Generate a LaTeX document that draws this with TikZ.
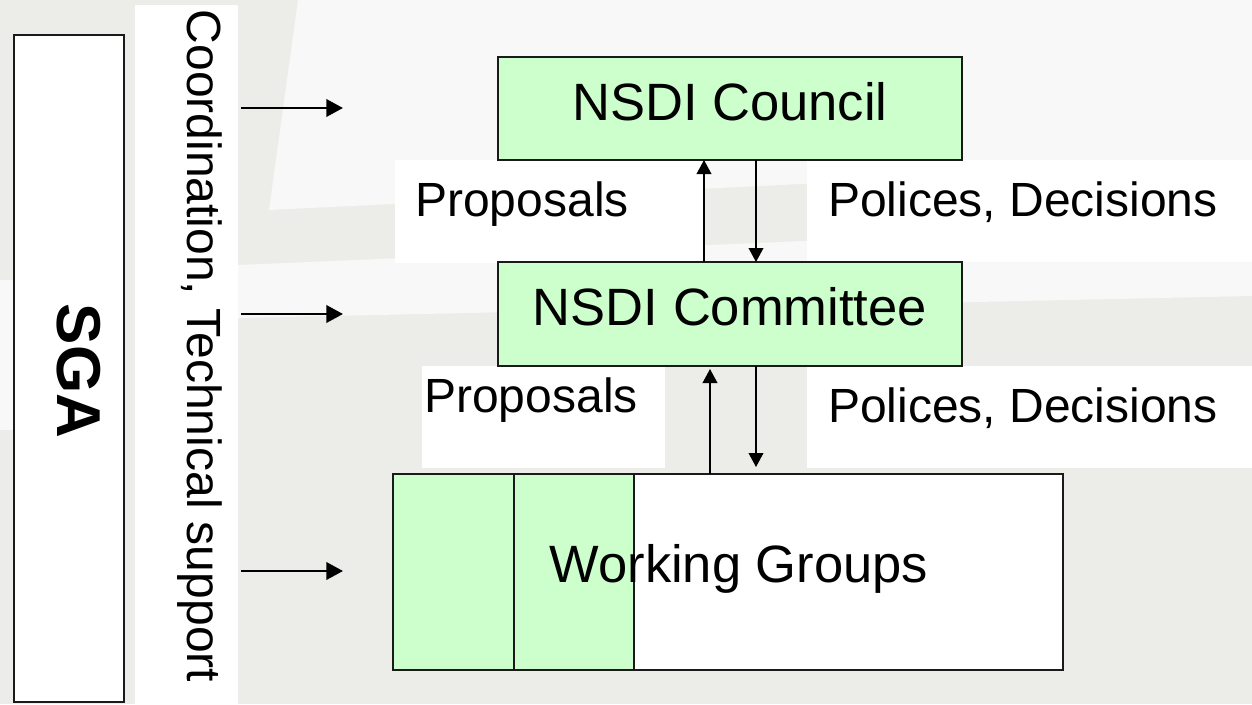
\documentclass[tikz,border=0pt]{standalone}
\usepackage{fontspec}
\setmainfont{Liberation Sans}
\usetikzlibrary{arrows.meta,calc}
\definecolor{bggray}{HTML}{ECECE8}
\definecolor{bglight}{HTML}{F8F8F8}
\definecolor{boxgreen}{HTML}{CCFFCC}
\definecolor{edge}{HTML}{1A1A1A}
\tikzset{
  stagebox/.style={draw=edge, line width=1.1pt, fill=boxgreen, inner sep=0pt, outer sep=0pt, rectangle},
  whitebox/.style={draw=edge, line width=1.1pt, fill=white, inner sep=0pt, outer sep=0pt, rectangle},
  titletext/.style={font=\fontsize{39.4}{44}\selectfont, inner sep=0pt, anchor=base},
  labeltext/.style={font=\fontsize{36}{40}\selectfont, inner sep=0pt, anchor=base west},
  sidearrow/.style={line width=2pt, -{Triangle[length=12.5pt,width=13pt]}},
  flowarrow/.style={line width=1.2pt, -{Triangle[length=10.5pt,width=11pt]}},
}
\begin{document}
\begin{tikzpicture}[x=0.75pt,y=-0.75pt]
\useasboundingbox (0,0) rectangle (1252,704);
% background
\fill[bggray] (0,0) rectangle (1252,704);
\fill[bglight] (298,0) -- (1252,0) -- (1252,162) -- (269,210) -- cycle;
\fill[bglight] (238,265) -- (1252,222) -- (1252,296) -- (238,318) -- cycle;
\fill[bglight] (0,280) rectangle (14,430);
% white strip behind vertical text
\fill[white] (135,5) rectangle (238,704);
% white label backgrounds
\fill[white] (395,160) rectangle (703,263);
\fill[white] (807,160) rectangle (1252,262);
\fill[white] (422,366) rectangle (665,468);
\fill[white] (807,366) rectangle (1252,468);
% SGA box
\node[whitebox, line width=0.9pt, minimum width=82.5pt, minimum height=500.25pt] (sga) at (69,368.5) {};
\node[rotate=-90, anchor=base, inner sep=0pt, font=\fontsize{46.5}{50}\selectfont\bfseries] (sgatext) at (57,371) {SGA};
\node[rotate=-90, anchor=base, inner sep=0pt, font=\fontsize{36}{40}\selectfont] (coord) at (187,346) {Coordination, Technical support};
% main boxes
\node[stagebox, minimum width=348pt, minimum height=77.25pt] (council) at (730,108.5) {};
\node[titletext] (counciltext) at ($(council.center)+(0,11.5)$) {NSDI Council};
\node[stagebox, minimum width=348pt, minimum height=78pt] (committee) at (730,314) {};
\node[titletext] (committeetext) at ($(committee.center)+(0,11)$) {NSDI Committee};
\node[whitebox, minimum width=502.5pt, minimum height=147pt] (wg) at (728,572) {};
\node[stagebox, minimum width=90.75pt, minimum height=147pt] (wga) at (453.5,572) {};
\node[stagebox, minimum width=90pt, minimum height=147pt] (wgb) at (574,572) {};
\node[titletext] (wgtext) at (739,582) {Working Groups};
% labels
\node[labeltext] (prop1) at (415,216) {Proposals};
\node[labeltext] (pol1) at (828,216) {Polices, Decisions};
\node[labeltext] (prop2) at (424,412) {Proposals};
\node[labeltext] (pol2) at (828,422) {Polices, Decisions};
% vertical arrows
\draw[flowarrow] (committee.north -| 704,0) -- (council.south -| 704,0);
\draw[flowarrow] (council.south -| 756,0) -- (committee.north -| 756,0);
\draw[flowarrow, shorten >=2.25pt] (wg.north -| 710,0) -- (committee.south -| 710,0);
\draw[flowarrow, shorten >=5.25pt] (committee.south -| 756,0) -- (wg.north -| 756,0);
% side arrows
\coordinate (s1) at (241,108);
\coordinate (t1) at (343,108);
\coordinate (s2) at (241,314);
\coordinate (t2) at (343,314);
\coordinate (s3) at (241,571);
\coordinate (t3) at (343,571);
\draw[sidearrow] (s1) -- (t1);
\draw[sidearrow] (s2) -- (t2);
\draw[sidearrow] (s3) -- (t3);
\end{tikzpicture}
\end{document}
